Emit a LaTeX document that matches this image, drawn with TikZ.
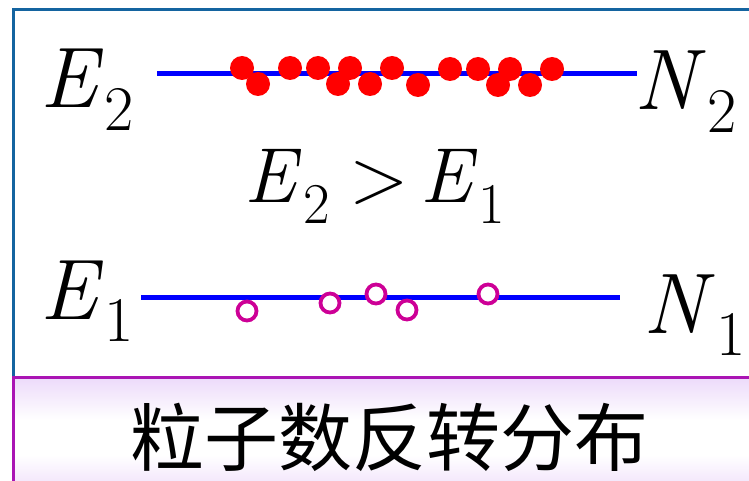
\documentclass[tikz,border=0pt]{standalone}
\usepackage{fontspec}
\newfontfamily\cjk{Noto Sans CJK SC}
\usepackage{xcolor}
\definecolor{frameblue}{RGB}{20,100,160}
\definecolor{panelmag}{RGB}{170,20,180}
\definecolor{panelA}{RGB}{236,218,250}
\definecolor{panelB}{RGB}{244,232,252}
\definecolor{holemag}{RGB}{205,0,150}
\usetikzlibrary{positioning}
% level label: italic letter with a lowered, smaller index
\newcommand\levlab[2]{\textit{#1}\kern0.02em\raisebox{-0.26em}{\scalebox{0.74}{#2}}}

\begin{document}
\begin{tikzpicture}[x=1pt, y=-1pt,
  lvl/.style={blue, line width=5pt},
  hi/.style={fill=red},
  lo/.style={draw=holemag, fill=white, line width=3.8pt},
  lab/.style={inner sep=0pt, font=\fontsize{86}{86}\selectfont},
  mid/.style={inner sep=0pt, font=\fontsize{78}{78}\selectfont},
  title/.style={inner sep=0pt, font=\cjk\fontsize{74}{74}\selectfont}]
\useasboundingbox (0,0) rectangle (749,481);
\begin{scope}
\clip (0,0) rectangle (749,481);
\draw[frameblue, line width=3pt] (13,377) -- (13,10) -- (760,10);
\fill[white] (13,377) rectangle (760,481);
\shade[top color=panelA, bottom color=white] (13,377) rectangle (760,420);
\shade[top color=white, bottom color=panelB] (13,455) rectangle (760,481);
\draw[panelmag, line width=3pt] (13,490) -- (13,377) -- (760,377);
\end{scope}
% levels
\coordinate (upL) at (157,73.5);
\coordinate (upR) at (637,73.5);
\coordinate (loL) at (141,297);
\coordinate (loR) at (620,297);
\draw[lvl] (upL) -- (upR);
\draw[lvl] (loL) -- (loR);
% particles
\foreach \x/\y in {242/68, 258/84, 290/68, 318/68, 338/84, 350/68, 370/84, 392/68,
                   418/85, 450/69, 478/69, 498/85, 510/69, 530/85, 552/69}
  \fill[hi] (\x,\y) circle[radius=12];
\foreach \x/\y in {247/311, 330/303, 376/294, 407/310, 488/294}
  \draw[lo] (\x,\y) circle[radius=9.5];
% labels
\node[lab, anchor=base west] (e2) at (40,108) {\levlab{E}{2}};
\node[lab, anchor=base west] (n2) at (634,110) {\levlab{N}{2}};
\node[lab, anchor=base west] (e1) at (40,319) {\levlab{E}{1}};
\node[lab, anchor=base west] (n1) at (643,333) {\levlab{N}{1}};
\node[mid, anchor=base] (rel) at (375,203) {\levlab{E}{2}\kern0.25em>\kern0.15em\levlab{E}{1}};
\node[title] (cap) at (389,437) {粒子数反转分布};
\end{tikzpicture}
\end{document}
